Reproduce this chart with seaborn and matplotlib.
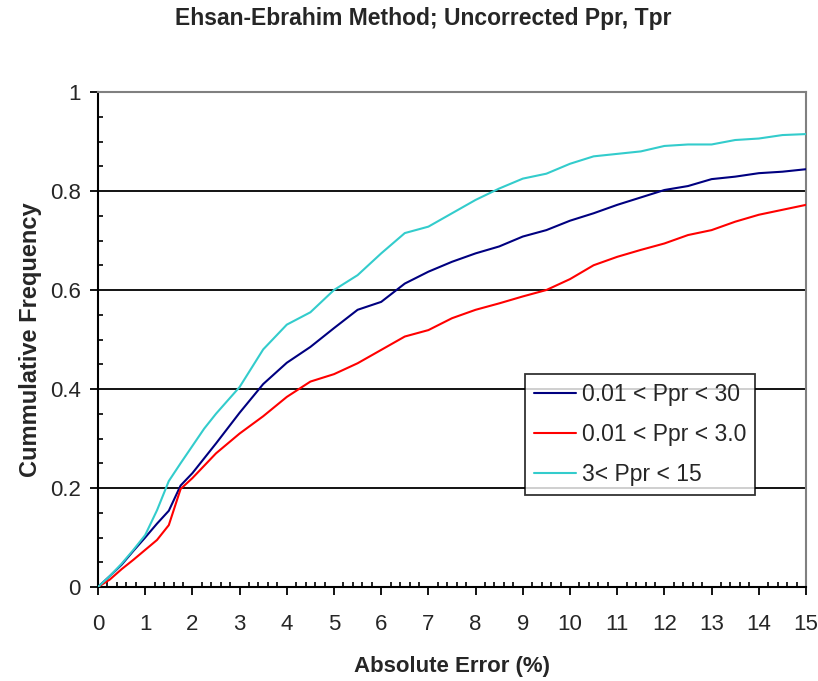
import numpy as np
import pandas as pd
import matplotlib
matplotlib.use("Agg")
import matplotlib.pyplot as plt
import seaborn as sns
from matplotlib.ticker import MultipleLocator

# ---- data ----
abs_error = [0, 0.25, 0.5, 0.75, 1.0, 1.25, 1.5, 1.75, 2.0, 2.25, 2.5, 3.0, 3.5,
             4.0, 4.5, 5.0, 5.5, 6.0, 6.5, 7.0, 7.5, 8.0, 8.5, 9.0, 9.5, 10.0,
             10.5, 11.0, 11.5, 12.0, 12.5, 13.0, 13.5, 14.0, 14.5, 15.0]
freq_all = [0, 0.022, 0.045, 0.073, 0.100, 0.128, 0.154, 0.205, 0.23, 0.26, 0.29,
            0.352, 0.41, 0.453, 0.485, 0.523, 0.56, 0.576, 0.613, 0.637, 0.657,
            0.674, 0.688, 0.708, 0.721, 0.740, 0.755, 0.772, 0.787, 0.802, 0.81,
            0.824, 0.829, 0.836, 0.839, 0.844]
freq_low = [0, 0.015, 0.036, 0.055, 0.075, 0.095, 0.125, 0.198, 0.22, 0.245, 0.27,
            0.31, 0.345, 0.384, 0.415, 0.43, 0.452, 0.479, 0.506, 0.519, 0.543,
            0.56, 0.573, 0.587, 0.60, 0.622, 0.65, 0.667, 0.681, 0.694, 0.711,
            0.721, 0.738, 0.752, 0.762, 0.772]
freq_high = [0, 0.022, 0.047, 0.075, 0.105, 0.155, 0.214, 0.25, 0.285, 0.32, 0.35,
             0.404, 0.48, 0.53, 0.555, 0.60, 0.63, 0.674, 0.715, 0.728, 0.755,
             0.782, 0.805, 0.825, 0.835, 0.855, 0.87, 0.875, 0.88, 0.891, 0.894,
             0.894, 0.903, 0.906, 0.913, 0.915]
series_names = ["0.01 < Ppr < 30", "0.01 < Ppr < 3.0", "3< Ppr < 15"]
series_colors = ["#000080", "#FF0000", "#33CCCC"]

y_ticks = [0, 0.2, 0.4, 0.6, 0.8, 1.0]
y_ticklabels = ["0", "0.2", "0.4", "0.6", "0.8", "1"]
x_ticks = list(range(16))
x_ticklabels = [str(i) for i in x_ticks]

title = "Ehsan-Ebrahim Method; Uncorrected Ppr, Tpr"
xlabel = "Absolute Error (%)"
ylabel = "Cummulative Frequency"

df = pd.concat([
    pd.DataFrame({"x": abs_error, "y": vals, "series": name})
    for name, vals in zip(series_names, [freq_all, freq_low, freq_high])
])

sns.set_style("white")
plt.rcParams["font.family"] = ["Liberation Sans", "DejaVu Sans"]

fig = plt.figure(figsize=(8.18, 6.81), dpi=100)
ax = fig.add_axes([98 / 818, 1 - 587 / 681, (806 - 98) / 818, (587 - 92) / 681])

# horizontal gridlines
for g in [0.2, 0.4, 0.6, 0.8]:
    ax.axhline(g, color="black", lw=1.3, zorder=1)

sns.lineplot(data=df, x="x", y="y", hue="series", hue_order=series_names,
             palette=dict(zip(series_names, series_colors)), ax=ax,
             lw=1.5, estimator=None, sort=False, zorder=3)

ax.set_xlim(0, 15)
ax.set_ylim(0, 1)
ax.set_xticks(x_ticks)
ax.set_xticklabels(x_ticklabels)
ax.set_yticks(y_ticks)
ax.set_yticklabels(y_ticklabels)
ax.xaxis.set_minor_locator(MultipleLocator(0.2))
ax.yaxis.set_minor_locator(MultipleLocator(0.05))

ax.tick_params(axis="both", which="major", direction="out", length=6, width=1.3,
               color="black", labelsize=16)
ax.tick_params(axis="both", which="minor", direction="in", length=3.5, width=1.2,
               color="black")
ax.tick_params(axis="x", which="major", pad=13.5)
ax.tick_params(axis="y", which="major", pad=6.5)
ax.xaxis.set_ticks_position("bottom")
ax.yaxis.set_ticks_position("left")

for side in ["left", "bottom"]:
    ax.spines[side].set_color("black")
    ax.spines[side].set_linewidth(1.5)
for side in ["top", "right"]:
    ax.spines[side].set_color("#808080")
    ax.spines[side].set_linewidth(1.5)

ax.set_xlabel(xlabel, fontsize=16, fontweight="bold", labelpad=15)
ax.set_ylabel(ylabel, fontsize=17, fontweight="bold", labelpad=5.5)

leg = ax.legend(title=None, loc="upper left",
                bbox_to_anchor=((525 - 98) / 708, (587 - 374) / 495),
                fontsize=16.5, frameon=True, fancybox=False, handlelength=1.85,
                borderpad=0.38, labelspacing=0.75, handletextpad=0.25,
                borderaxespad=0)
leg.get_frame().set_edgecolor("black")
leg.get_frame().set_linewidth(1.3)
for h in leg.get_lines():
    h.set_linewidth(1.5)

fig.text(423 / 818, 1 - 18 / 681, title, ha="center", va="center",
         fontsize=16.5, fontweight="bold")

fig.savefig("out.png", dpi=100, facecolor="white")
